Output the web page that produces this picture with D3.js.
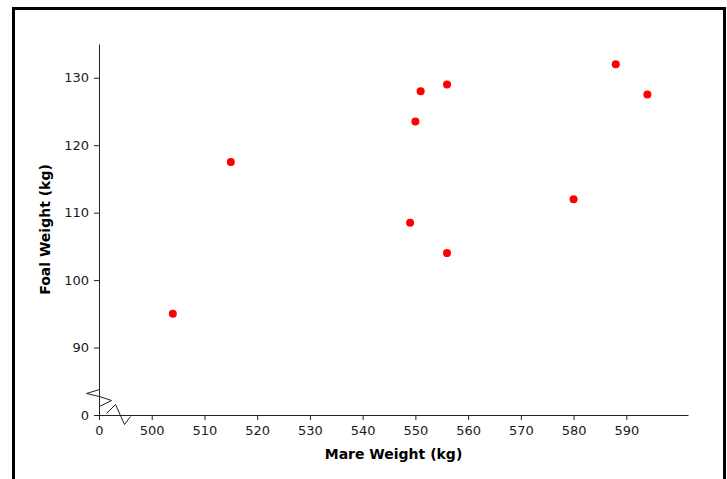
<!DOCTYPE html>
<html>
<head>
<meta charset="utf-8">
<script src="https://cdn.jsdelivr.net/npm/d3@7"></script>
<style>
  html, body { margin: 0; padding: 0; background: #fff; }
  svg { display: block; }
  .tick text { font-family: "DejaVu Sans", Verdana, sans-serif; font-size: 13px; fill: #1a1a1a; }
  .axis-title { font-family: "DejaVu Sans", Verdana, sans-serif; font-size: 14px; font-weight: bold; fill: #000; }
</style>
</head>
<body>
<script>
// Mare weight vs foal weight (kg)
const mareWeight = [504, 515, 549, 550, 551, 556, 556, 580, 588, 594];
const foalWeight = [95, 117.5, 108.5, 123.5, 128, 129, 104, 112, 132, 127.5];

// Tick values; the first tick of each axis sits on the axis break and reads "0"
const xTicks = [490, 500, 510, 520, 530, 540, 550, 560, 570, 580, 590];
const yTicks = [80, 90, 100, 110, 120, 130];
const xTickLabels = ["0", "500", "510", "520", "530", "540", "550", "560", "570", "580", "590"];
const yTickLabels = ["0", "90", "100", "110", "120", "130"];

const W = 727, H = 479;
const svg = d3.select("body").append("svg").attr("width", W).attr("height", H);

// Outer frame
svg.append("rect")
  .attr("x", 13.5).attr("y", 8.5)
  .attr("width", 711).attr("height", 490)
  .attr("fill", "none").attr("stroke", "#000").attr("stroke-width", 3);

const x = d3.scaleLinear().domain([490, 601.7]).range([99, 688]);
const y = d3.scaleLinear().domain([80, 135]).range([415, 44]);

const xAxis = d3.axisBottom(x)
  .tickValues(xTicks)
  .tickFormat((d, i) => xTickLabels[i])
  .tickSizeInner(5).tickSizeOuter(0).tickPadding(6);

const yAxis = d3.axisLeft(y)
  .tickValues(yTicks)
  .tickFormat((d, i) => yTickLabels[i])
  .tickSizeInner(5).tickSizeOuter(0).tickPadding(5);

const gx = svg.append("g").attr("transform", `translate(0,${y.range()[0]})`).call(xAxis);
const gy = svg.append("g").attr("transform", `translate(${x.range()[0]},0)`).call(yAxis);

[gx, gy].forEach(g => {
  g.select(".domain").attr("stroke", "#222");
  g.selectAll(".tick line").attr("stroke", "#222");
});

// Axis break zigzags near the origin
const ox = x.range()[0] + 0.5, oy = y.range()[0] + 0.5;
const brk = d3.line();
svg.append("path")
  .attr("d", brk([[ox, oy - 26], [ox - 13, oy - 22], [ox, oy - 19], [ox + 12, oy - 15], [ox, oy - 9]]))
  .attr("fill", "none").attr("stroke", "#222").attr("stroke-width", 1);
svg.append("path")
  .attr("d", brk([[ox + 7, oy - 2], [ox + 16, oy - 11], [ox + 25, oy + 9], [ox + 31, oy + 1]]))
  .attr("fill", "none").attr("stroke", "#222").attr("stroke-width", 1);

// Data points
svg.append("g").selectAll("circle")
  .data(mareWeight.map((m, i) => ({ m, f: foalWeight[i] })))
  .join("circle")
  .attr("cx", d => x(d.m))
  .attr("cy", d => y(d.f))
  .attr("r", 4)
  .attr("fill", "#ff0000");

// Axis titles
svg.append("text")
  .attr("class", "axis-title")
  .attr("x", (x.range()[0] + x.range()[1]) / 2)
  .attr("y", 459)
  .attr("text-anchor", "middle")
  .text("Mare Weight (kg)");

svg.append("text")
  .attr("class", "axis-title")
  .attr("transform", `translate(50,${(y.range()[0] + y.range()[1]) / 2}) rotate(-90)`)
  .attr("text-anchor", "middle")
  .text("Foal Weight (kg)");
</script>
</body>
</html>
